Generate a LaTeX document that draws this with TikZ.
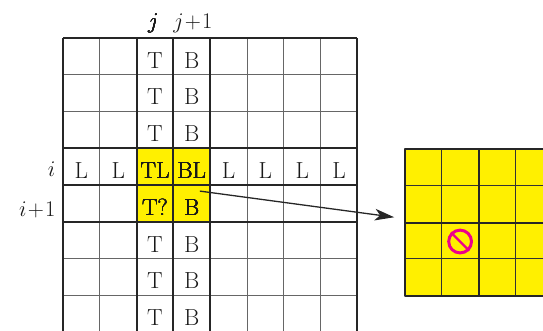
\documentclass[tikz,border=0pt]{standalone}
\usepackage{amsmath, amssymb}
\usetikzlibrary{arrows.meta,positioning,calc}
\definecolor{cellyellow}{RGB}{255,240,0}
\definecolor{forbidpink}{RGB}{236,0,140}
\tikzset{
thinline/.style={line width=0.6pt,black!60},
thickline/.style={line width=1.5pt,black!85},
celltext/.style={anchor=base,inner sep=0pt,font=\fontsize{18}{20}\selectfont,text=black!90},
sidetext/.style={anchor=base,inner sep=0pt,font=\fontsize{18}{20}\selectfont,text=black!90},
forbidsign/.style={circle,draw=forbidpink,line width=2.3pt,minimum size=0.62cm,inner sep=0pt}
}
\newcommand \mycell[4]
{
\node[celltext] (#4) at (#1+0.5,{-#2-0.815}) {#3};
}
\begin{document}
\begin{tikzpicture}[line join=round]
\coordinate (bl) at (-1.712,-7.935);
\coordinate (tr) at (13.043,1.033);
\useasboundingbox (bl) rectangle (tr);
\clip (bl) rectangle (tr);
\fill[cellyellow] (2,-3) rectangle (4,-5);
\fill[cellyellow] (9.293,-3.016) rectangle (13.2,-7);
\foreach \c in {1,5,6,7}
  \draw[thinline] (\c,0)--(\c,-8.2);
\foreach \r in {1,2,6,7}
  \draw[thinline] (0,-\r)--(8,-\r);
\foreach \c in {0,2,3,4,8}
  \draw[thickline] (\c,0)--(\c,-8.2);
\foreach \r in {0,3,4,5}
  \draw[thickline] (0,-\r)--(8,-\r);
\foreach \c in {10.29,12.29}
  \draw[thinline,black!80] (\c,-3.016)--(\c,-7);
\foreach \r in {4.016,6}
  \draw[thinline,black!80] (9.293,-\r)--(13.2,-\r);
\draw[thickline] (13.2,-3.016)--(9.293,-3.016)--(9.293,-7)--(13.2,-7);
\draw[thickline] (11.3,-3.016)--(11.3,-7);
\draw[thickline] (9.293,-5.016)--(13.2,-5.016);
\foreach \r in {0,1,2,5,6,7}
{
\mycell{2}{\r}{T}{top\r}
\mycell{3}{\r}{B}{bot\r}
}
\foreach \c in {0,1,4,5,6,7}
  \mycell{\c}{3}{L}{left\c}
\mycell{2}{3}{TL}{topleft}
\mycell{3}{3}{BL}{botleft}
\mycell{2}{4}{T?}{topask}
\mycell{3}{4}{B}{botfour}
\node[sidetext] (colj) at (2.45,0.27) {$j$};
\node[sidetext] (colk) at (3.53,0.27) {$j\!+\!1$};
\node[sidetext,anchor=base east] (rowi) at (-0.2,-3.77) {$i$};
\node[sidetext,anchor=base east] (rowk) at (-0.2,-4.856) {$i\!+\!1$};
\node[forbidsign] (forbid) at (10.79,-5.53) {};
\draw[forbidpink,line width=1.8pt] (forbid.135)--(forbid.-45);
\coordinate (arrowfrom) at (3.72,-4.16);
\coordinate (arrowto) at (9,-4.87);
\draw[-{Stealth[length=15pt,width=9pt,inset=4pt]},line width=1pt,black!85] (arrowfrom)--(arrowto);
\end{tikzpicture}
\end{document}
